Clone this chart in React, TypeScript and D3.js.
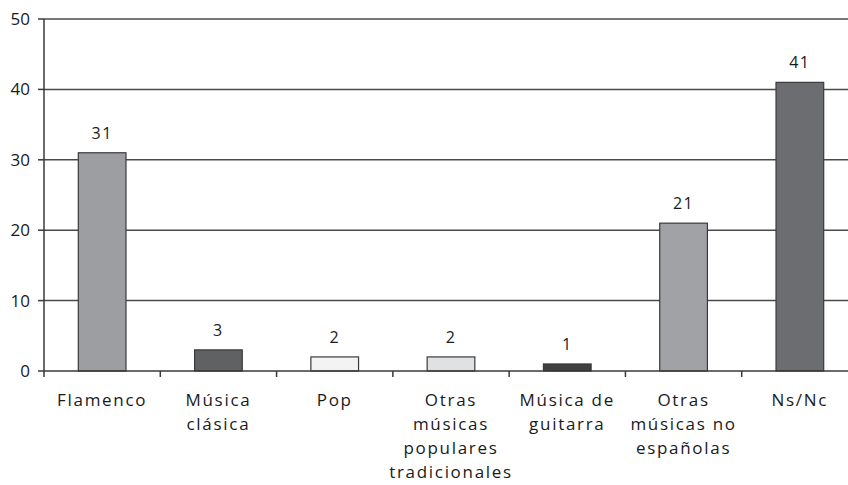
import React, { useEffect, useRef } from 'react';
import * as d3 from 'd3';

const categories = [
  ['Flamenco'],
  ['Música', 'clásica'],
  ['Pop'],
  ['Otras', 'músicas', 'populares', 'tradicionales'],
  ['Música de', 'guitarra'],
  ['Otras', 'músicas no', 'españolas'],
  ['Ns/Nc'],
];
const values = [31, 3, 2, 2, 1, 21, 41];
const barColors = ['#9d9ea2', '#606163', '#f3f3f3', '#e0e1e3', '#404042', '#a1a2a6', '#6c6d71'];
const yTicks = [0, 10, 20, 30, 40, 50];

const App = () => {
  const ref = useRef<SVGSVGElement>(null);

  useEffect(() => {
    if (!ref.current) return;
    const svg = d3.select(ref.current);
    svg.selectAll('*').remove();

    const left = 44;
    const right = 858;
    const top = 19;
    const bottom = 371;
    const font = "'Open Sans', 'DejaVu Sans', sans-serif";

    const x = d3.scaleBand<number>()
      .domain(values.map((_, i) => i))
      .range([left, right])
      .paddingInner(0.59)
      .paddingOuter(0.295);
    const y = d3.scaleLinear().domain([0, 50]).range([bottom, top]);
    const band = (right - left) / values.length;

    // Grid lines
    svg.append('g')
      .selectAll('line')
      .data(yTicks.filter(t => t > 0))
      .enter()
      .append('line')
      .attr('x1', left)
      .attr('x2', right)
      .attr('y1', d => y(d))
      .attr('y2', d => y(d))
      .attr('stroke', '#4a4a4a')
      .attr('stroke-width', 1.5);

    // Bars
    svg.append('g')
      .selectAll('rect')
      .data(values)
      .enter()
      .append('rect')
      .attr('x', (_, i) => x(i)!)
      .attr('y', d => y(d))
      .attr('width', x.bandwidth())
      .attr('height', d => bottom - y(d))
      .attr('fill', (_, i) => barColors[i])
      .attr('stroke', '#3a3a3a')
      .attr('stroke-width', 1.2);

    // Value labels
    svg.append('g')
      .selectAll('text')
      .data(values)
      .enter()
      .append('text')
      .attr('x', (_, i) => x(i)! + x.bandwidth() / 2)
      .attr('y', d => y(d) - 14)
      .attr('text-anchor', 'middle')
      .attr('font-family', font)
      .attr('font-size', '16px')
      .attr('letter-spacing', '1.5px')
      .attr('fill', '#1a1a1a')
      .text(d => d);

    // Axes
    svg.append('line')
      .attr('x1', left).attr('x2', left)
      .attr('y1', top).attr('y2', bottom)
      .attr('stroke', '#3a3a3a').attr('stroke-width', 1.5);
    svg.append('line')
      .attr('x1', left).attr('x2', right)
      .attr('y1', bottom).attr('y2', bottom)
      .attr('stroke', '#3a3a3a').attr('stroke-width', 1.5);

    // Y ticks
    const yt = svg.append('g');
    yTicks.forEach(t => {
      yt.append('line')
        .attr('x1', left - 6).attr('x2', left)
        .attr('y1', y(t)).attr('y2', y(t))
        .attr('stroke', '#3a3a3a').attr('stroke-width', 1.5);
      yt.append('text')
        .attr('x', left - 14)
        .attr('y', y(t))
        .attr('dy', '0.35em')
        .attr('text-anchor', 'end')
        .attr('font-family', font)
        .attr('font-size', '17px')
        .attr('fill', '#1a1a1a')
        .text(t);
    });

    // X ticks between categories
    d3.range(values.length + 1).forEach(i => {
      svg.append('line')
        .attr('x1', left + i * band).attr('x2', left + i * band)
        .attr('y1', bottom).attr('y2', bottom + 6)
        .attr('stroke', '#3a3a3a').attr('stroke-width', 1.5);
    });

    // Category labels
    categories.forEach((lines, i) => {
      const cx = x(i)! + x.bandwidth() / 2;
      const t = svg.append('text')
        .attr('text-anchor', 'middle')
        .attr('font-family', font)
        .attr('font-size', '17px')
        .attr('letter-spacing', '1.7px')
        .attr('fill', '#1a1a1a');
      lines.forEach((line, j) => {
        t.append('tspan')
          .attr('x', cx)
          .attr('y', 406 + j * 24)
          .text(line);
      });
    });
  }, []);

  return (
    <svg
      ref={ref}
      width={848}
      height={485}
      style={{ position: 'absolute', left: 0, top: 0, background: '#fff' }}
    />
  );
};

export default App;
